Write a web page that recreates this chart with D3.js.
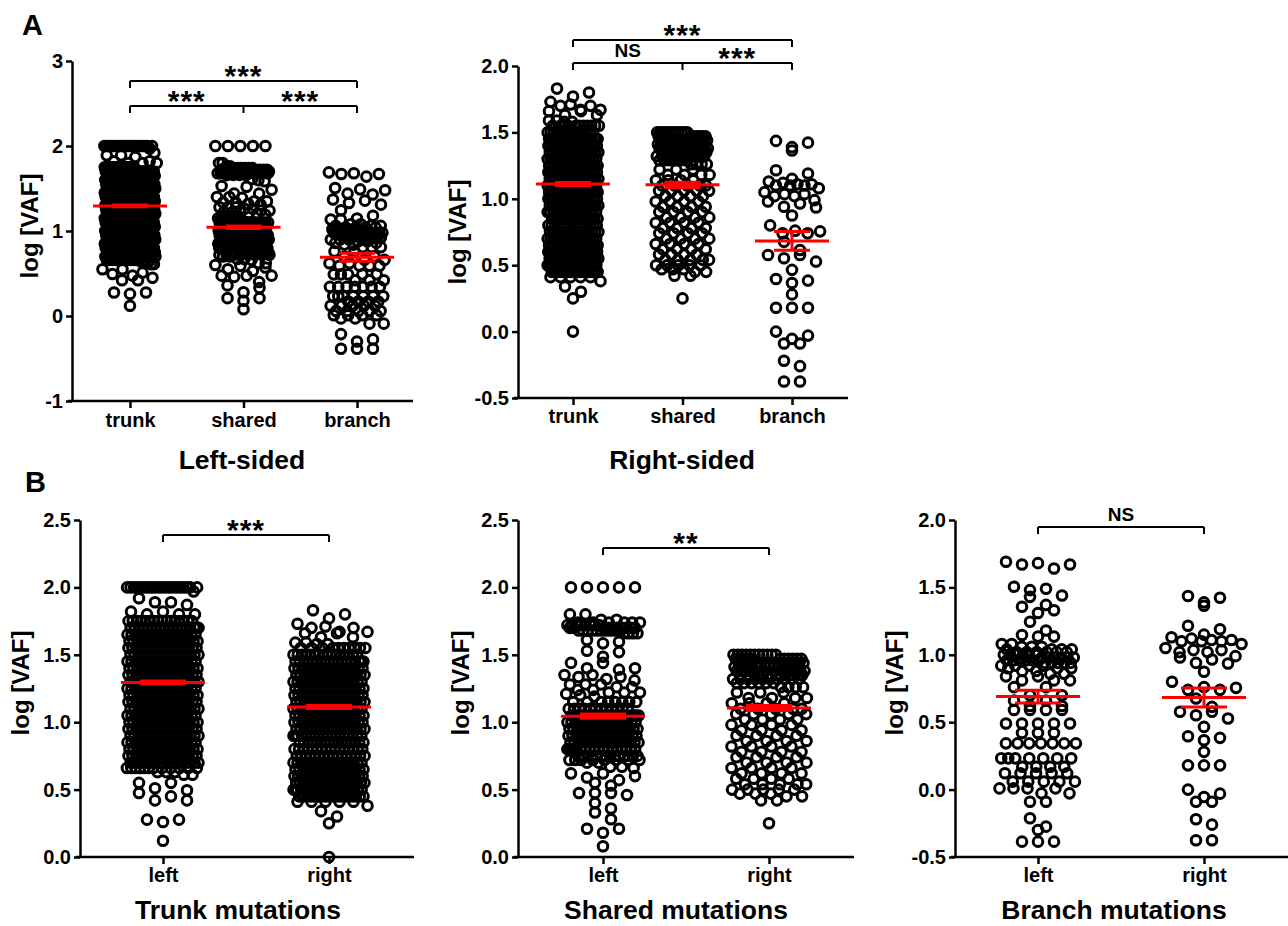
<!DOCTYPE html>
<html>
<head>
<meta charset="utf-8">
<script src="https://cdn.jsdelivr.net/npm/d3@7"></script>
<style>
  body { margin: 0; background: #fff; }
  text { font-family: "Liberation Sans", Arial, sans-serif; font-weight: bold; fill: #000; }
</style>
</head>
<body>
<svg id="chart" width="1288" height="926"></svg>
<script>
// ---- data: log VAF values, as [value, count] ----
var trunkLeft = [
    [2.0, 20], [1.97, 1], [1.92, 1], [1.89, 2], [1.87, 1], [1.82, 2], [1.80, 3],
    [1.75, 16], [1.70, 18], [1.65, 18], [1.60, 18], [1.55, 18], [1.50, 18], [1.45, 18],
    [1.40, 18], [1.35, 18], [1.30, 18], [1.25, 18], [1.20, 18], [1.15, 18], [1.10, 18],
    [1.05, 18], [1.00, 18], [0.95, 18], [0.90, 18], [0.85, 18], [0.80, 18], [0.75, 18],
    [0.70, 18], [0.66, 12],
    [0.63, 3], [0.61, 2], [0.55, 2], [0.51, 1], [0.495, 1], [0.475, 1], [0.45, 1],
    [0.42, 2], [0.277, 2], [0.26, 1], [0.12, 1]
];
var trunkRight = [
    [1.83, 1], [1.80, 1], [1.77, 1], [1.73, 1], [1.71, 1], [1.70, 2], [1.67, 2],
    [1.66, 2], [1.63, 2], [1.59, 2], [1.58, 2],
    [1.55, 10], [1.50, 16], [1.45, 18], [1.40, 18], [1.35, 18], [1.30, 18], [1.25, 18],
    [1.20, 18], [1.15, 18], [1.10, 18], [1.05, 18], [1.00, 18], [0.95, 18], [0.90, 18],
    [0.85, 16], [0.80, 16], [0.75, 16], [0.70, 18], [0.65, 18], [0.60, 20], [0.55, 20],
    [0.50, 20], [0.45, 18],
    [0.41, 5], [0.38, 1], [0.34, 1], [0.30, 1], [0.25, 1], [0.0, 1]
];
var sharedLeft = [
    [2.0, 5], [1.80, 2], [1.76, 2], [1.74, 6], [1.72, 8], [1.70, 10], [1.68, 10], [1.66, 4],
    [1.61, 1], [1.597, 1], [1.585, 1], [1.53, 1], [1.52, 1], [1.485, 1], [1.44, 2],
    [1.40, 2], [1.39, 1], [1.35, 2], [1.335, 2], [1.32, 1], [1.31, 1], [1.28, 3],
    [1.26, 2], [1.24, 2], [1.22, 3], [1.21, 1], [1.20, 1], [1.19, 1],
    [1.15, 8], [1.10, 12], [1.05, 15], [1.00, 18], [0.95, 18], [0.90, 18], [0.85, 18],
    [0.80, 18], [0.75, 14], [0.72, 8],
    [0.70, 2], [0.67, 2], [0.66, 1], [0.62, 2], [0.60, 1], [0.59, 1], [0.57, 1],
    [0.55, 1], [0.53, 1], [0.475, 3], [0.46, 1], [0.40, 1], [0.36, 1], [0.33, 1],
    [0.28, 1], [0.21, 2], [0.18, 1], [0.08, 1]
];
var sharedRight = [
    [1.50, 11], [1.47, 11], [1.44, 12], [1.41, 11], [1.38, 11], [1.35, 11], [1.32, 10],
    [1.29, 6], [1.26, 4], [1.22, 3], [1.18, 4], [1.14, 4], [1.10, 5], [1.06, 5],
    [1.02, 4], [0.98, 4], [0.94, 4], [0.90, 4], [0.86, 4], [0.82, 4], [0.78, 4],
    [0.74, 4], [0.70, 4], [0.66, 4], [0.62, 4], [0.58, 4], [0.54, 5], [0.50, 5],
    [0.47, 3], [0.45, 2], [0.42, 2], [0.25, 1]
];
var branchLeft = [
    [1.69, 1], [1.68, 1], [1.67, 2], [1.64, 1],
    [1.505, 1], [1.49, 1], [1.48, 1], [1.44, 1], [1.43, 1], [1.37, 1], [1.357, 1],
    [1.33, 1], [1.31, 1], [1.245, 1], [1.18, 1], [1.147, 1], [1.135, 2],
    [1.08, 2], [1.06, 3], [1.04, 4], [1.02, 6], [1.00, 6], [0.98, 6], [0.96, 6],
    [0.94, 5], [0.92, 4], [0.90, 3], [0.88, 2], [0.86, 2], [0.84, 2],
    [0.81, 3], [0.76, 2], [0.70, 2], [0.66, 2], [0.62, 2],
    [0.59, 4], [0.49, 5], [0.42, 3], [0.343, 7], [0.232, 7], [0.17, 4], [0.121, 5],
    [0.059, 5], [0.009, 4], [-0.028, 2], [-0.09, 2], [-0.213, 1], [-0.275, 1],
    [-0.30, 1], [-0.386, 3]
];
var branchRight = [
    [1.436, 1], [1.423, 1], [1.389, 1], [1.364, 1], [1.215, 1], [1.19, 1],
    [1.15, 1], [1.13, 1], [1.12, 1], [1.11, 2], [1.10, 3], [1.08, 1],
    [1.05, 1], [1.035, 2], [1.02, 2],
    [0.99, 1], [0.98, 1], [0.965, 1], [0.94, 1], [0.935, 1],
    [0.874, 1], [0.80, 1], [0.76, 1], [0.755, 1], [0.74, 2], [0.676, 1],
    [0.614, 1], [0.577, 2], [0.552, 1], [0.527, 1], [0.465, 1],
    [0.396, 1], [0.384, 1], [0.366, 1], [0.28, 1], [0.18, 3],
    [0.0, 1], [-0.03, 1], [-0.055, 1], [-0.09, 2], [-0.22, 1], [-0.26, 1], [-0.376, 2]
];

// mean and SEM per group: trunk, shared, branch
var leftMeans = [1.295, 1.045, 0.69];
var leftSems = [0.01, 0.015, 0.047];
var rightMeans = [1.112, 1.105, 0.683];
var rightSems = [0.011, 0.019, 0.07];

var sideCats = ["trunk", "shared", "branch"];
var lrCats = ["left", "right"];
var sigSideLeft = [["***"], ["***", "***"]];
var sigSideRight = [["***"], ["NS", "***"]];
var sigTrunk = ["***"];
var sigShared = ["**"];
var sigBranch = ["NS"];

var ticksWide = [-1, 0, 1, 2, 3];
var ticksHalf = [0, 0.5, 1.0, 1.5, 2.0, 2.5];
var ticksNeg = [-0.5, 0, 0.5, 1.0, 1.5, 2.0];

var svg = d3.select("#chart");
var ff = "'Liberation Sans', Arial, sans-serif";

function expand(bins) {
    var out = [];
    bins.forEach(function (b) {
        for (var k = 0; k < b[1]; k++) out.push(b[0]);
    });
    return out.sort(function (a, b) { return b - a; });
}

// prism-like rows: points close in y share a row and spread sideways
function layoutColumn(values, y, spacing, maxHalf, rowH) {
    var rows = [], cur = null;
    values.forEach(function (v) {
        var py = y(v);
        if (!cur || py - cur.top > rowH) {
            cur = { top: py, pts: [] };
            rows.push(cur);
        }
        cur.pts.push(v);
    });
    var placed = [];
    rows.forEach(function (r, ri) {
        var n = r.pts.length;
        var s = n > 1 ? Math.min(spacing, 2 * maxHalf / (n - 1)) : 0;
        var shift = s < spacing ? (ri % 2 ? 1 : -1) * s / 4 : 0;
        // slot order: every other slot first, so each value spreads over the width
        var order = [];
        for (var i = 0; i < n; i += 2) order.push(i);
        for (var j = 1; j < n; j += 2) order.push(j);
        r.pts.forEach(function (v, k) {
            placed.push({ v: v, dx: (order[k] - (n - 1) / 2) * s + shift });
        });
    });
    return placed;
}

function drawPanel(p) {
    var g = svg.append("g");
    var y = d3.scaleLinear().domain(p.domain).range([p.yBot, p.yTop]);
    var x = d3.scalePoint().domain(p.cats).range(p.catRange);

    // points
    p.groups.forEach(function (grp, i) {
        var pts = layoutColumn(expand(grp), y, 16, p.maxHalf, 9);
        g.append("g").selectAll("circle")
            .data(pts)
            .enter().append("circle")
            .attr("cx", function (d) { return x(p.cats[i]) + d.dx; })
            .attr("cy", function (d) { return y(d.v); })
            .attr("r", 4.8)
            .attr("fill", "none")
            .attr("stroke", "#000")
            .attr("stroke-width", 3);
    });

    // mean and SEM
    p.groups.forEach(function (grp, i) {
        var cx = x(p.cats[i]), m = p.means[i], s = p.sems[i];
        var rg = g.append("g").attr("stroke", "#ff0000").attr("stroke-width", 3);
        rg.append("line").attr("x1", cx - p.meanHalf).attr("x2", cx + p.meanHalf)
            .attr("y1", y(m)).attr("y2", y(m));
        [m - s, m + s].forEach(function (e) {
            rg.append("line").attr("x1", cx - p.errHalf).attr("x2", cx + p.errHalf)
                .attr("y1", y(e)).attr("y2", y(e));
        });
        rg.append("line").attr("x1", cx).attr("x2", cx)
            .attr("y1", y(m - s)).attr("y2", y(m + s));
    });

    // y axis
    var ya = g.append("g").attr("transform", "translate(" + p.x0 + ",0)")
        .call(d3.axisLeft(y).tickValues(p.ticks).tickFormat(p.fmt).tickSize(6).tickSizeOuter(0));
    ya.selectAll("path, line").attr("stroke", "#000").attr("stroke-width", 2.5);
    ya.selectAll("text").attr("font-size", 20).attr("font-family", ff).attr("font-weight", "bold");

    // x axis
    var xa = g.append("g").attr("transform", "translate(0," + p.yBot + ")")
        .call(d3.axisBottom(x).tickSize(7).tickSizeOuter(0).tickPadding(6));
    xa.select(".domain").remove();
    xa.selectAll("line").attr("stroke", "#000").attr("stroke-width", 2.5);
    xa.selectAll("text").attr("font-size", 20).attr("font-family", ff).attr("font-weight", "bold")
        .attr("dy", null).attr("y", p.catLabelY - p.yBot);
    g.append("line").attr("x1", p.xLineStart).attr("x2", p.xEnd)
        .attr("y1", p.yBot).attr("y2", p.yBot)
        .attr("stroke", "#000").attr("stroke-width", 2.5);

    // significance brackets
    p.brackets.forEach(function (b) {
        var xs = b.idx.map(function (k) { return x(p.cats[k]); });
        var bg = g.append("g").attr("stroke", "#000").attr("stroke-width", 2).attr("fill", "none");
        bg.append("line").attr("x1", xs[0]).attr("x2", xs[xs.length - 1])
            .attr("y1", b.y).attr("y2", b.y);
        xs.forEach(function (xx) {
            bg.append("line").attr("x1", xx).attr("x2", xx)
                .attr("y1", b.y).attr("y2", b.y + 7);
        });
        b.labels.forEach(function (lab, j) {
            var mx = (xs[j] + xs[j + 1]) / 2;
            var stars = lab !== "NS";
            g.append("text")
                .attr("x", mx)
                .attr("y", stars ? b.y - 12 + 0.58 * 30 : b.y - 6)
                .attr("text-anchor", "middle")
                .attr("font-size", stars ? 30 : 19)
                .attr("letter-spacing", stars ? 1 : 0)
                .text(lab);
        });
    });

    // axis titles
    g.append("text")
        .attr("transform", "translate(" + p.ylabX + "," + p.ylabY + ") rotate(-90)")
        .attr("text-anchor", "middle")
        .attr("font-size", 24)
        .text("log [VAF]");
    g.append("text")
        .attr("x", p.titleX).attr("y", p.titleY)
        .attr("text-anchor", "middle")
        .attr("font-size", 26.5)
        .text(p.title);
}

var fmtInt = function (v) { return String(v); };
var fmtOne = function (v) { return v.toFixed(1); };

var panels = [
    { cats: sideCats, groups: [trunkLeft, sharedLeft, branchLeft], means: leftMeans, sems: leftSems,
      domain: [-1, 3], ticks: ticksWide, fmt: fmtInt,
      x0: 72, xLineStart: 68, xEnd: 413, yTop: 61, yBot: 401, catRange: [130, 357], catLabelY: 427,
      title: "Left-sided", titleX: 242, titleY: 469, ylabX: 38, ylabY: 226,
      maxHalf: 25, meanHalf: 37, errHalf: 18,
      brackets: [{ idx: [0, 2], y: 81, labels: sigSideLeft[0] }, { idx: [0, 1, 2], y: 106, labels: sigSideLeft[1] }] },
    { cats: sideCats, groups: [trunkRight, sharedRight, branchRight], means: rightMeans, sems: rightSems,
      domain: [-0.5, 2], ticks: ticksNeg, fmt: fmtOne,
      x0: 518, xLineStart: 514, xEnd: 848, yTop: 66, yBot: 398, catRange: [573, 792], catLabelY: 423,
      title: "Right-sided", titleX: 682, titleY: 469, ylabX: 466, ylabY: 232,
      maxHalf: 25, meanHalf: 37, errHalf: 18,
      brackets: [{ idx: [0, 2], y: 40, labels: sigSideRight[0] }, { idx: [0, 1, 2], y: 63, labels: sigSideRight[1] }] },
    { cats: lrCats, groups: [trunkLeft, trunkRight], means: [leftMeans[0], rightMeans[0]], sems: [leftSems[0], rightSems[0]],
      domain: [0, 2.5], ticks: ticksHalf, fmt: fmtOne,
      x0: 80, xLineStart: 76, xEnd: 414, yTop: 520, yBot: 857, catRange: [163, 329], catLabelY: 882,
      title: "Trunk mutations", titleX: 238, titleY: 919, ylabX: 29, ylabY: 683,
      maxHalf: 35, meanHalf: 42, errHalf: 23,
      brackets: [{ idx: [0, 1], y: 535, labels: sigTrunk }] },
    { cats: lrCats, groups: [sharedLeft, sharedRight], means: [leftMeans[1], rightMeans[1]], sems: [leftSems[1], rightSems[1]],
      domain: [0, 2.5], ticks: ticksHalf, fmt: fmtOne,
      x0: 518, xLineStart: 514, xEnd: 854, yTop: 520, yBot: 857, catRange: [603, 769], catLabelY: 882,
      title: "Shared mutations", titleX: 676, titleY: 919, ylabX: 469, ylabY: 683,
      maxHalf: 35, meanHalf: 42, errHalf: 23,
      brackets: [{ idx: [0, 1], y: 548, labels: sigShared }] },
    { cats: lrCats, groups: [branchLeft, branchRight], means: [leftMeans[2], rightMeans[2]], sems: [leftSems[2], rightSems[2]],
      domain: [-0.5, 2], ticks: ticksNeg, fmt: fmtOne,
      x0: 955, xLineStart: 951, xEnd: 1288, yTop: 520, yBot: 857, catRange: [1038, 1204], catLabelY: 882,
      title: "Branch mutations", titleX: 1114, titleY: 919, ylabX: 903, ylabY: 683,
      maxHalf: 35, meanHalf: 42, errHalf: 23,
      brackets: [{ idx: [0, 1], y: 527, labels: sigBranch }] }
];

panels.forEach(drawPanel);

svg.append("text").attr("x", 22).attr("y", 35).attr("font-size", 29).text("A");
svg.append("text").attr("x", 25).attr("y", 492).attr("font-size", 29).text("B");
</script>
</body>
</html>
